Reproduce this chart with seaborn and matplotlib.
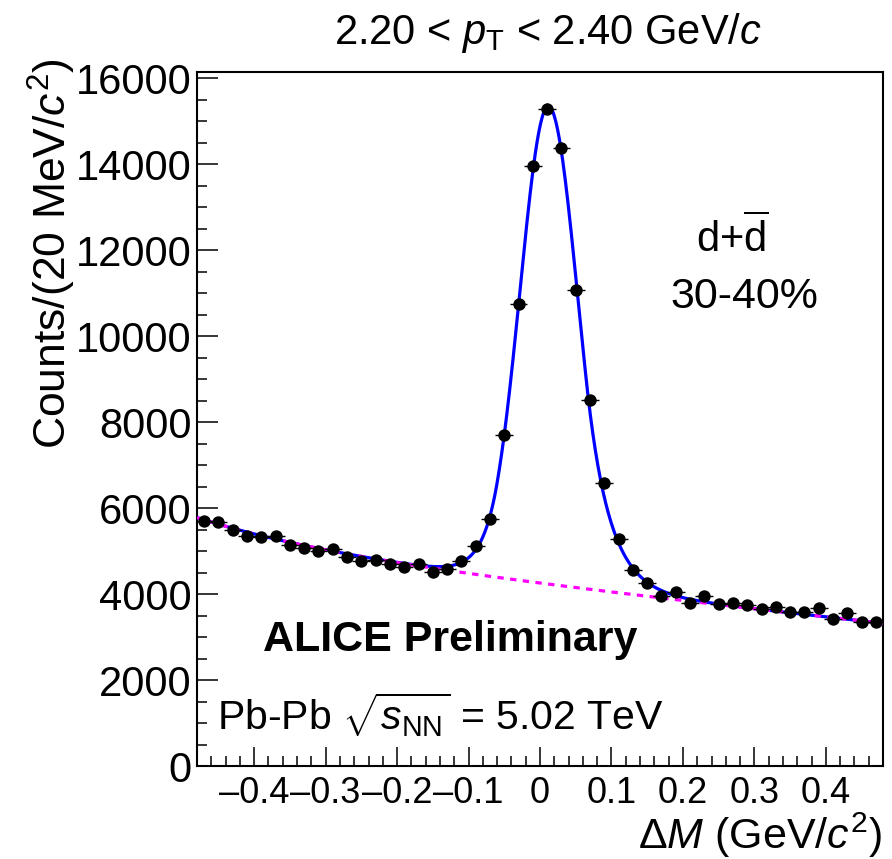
import numpy as np
import pandas as pd
import matplotlib
matplotlib.use("Agg")
import matplotlib.pyplot as plt
import seaborn as sns
from matplotlib.ticker import MultipleLocator, FixedLocator, FixedFormatter

# ---------------- data ----------------
delta_m = [-0.47, -0.45, -0.43, -0.41, -0.39, -0.37, -0.35, -0.33, -0.31, -0.29,
           -0.27, -0.25, -0.23, -0.21, -0.19, -0.17, -0.15, -0.13, -0.11, -0.09,
           -0.07, -0.05, -0.03, -0.01, 0.01, 0.03, 0.05, 0.07, 0.09, 0.11,
           0.13, 0.15, 0.17, 0.19, 0.21, 0.23, 0.25, 0.27, 0.29, 0.31,
           0.33, 0.35, 0.37, 0.39, 0.41, 0.43, 0.45, 0.47]
counts = [5690, 5670, 5500, 5350, 5330, 5355, 5140, 5075, 5005, 5040,
          4855, 4760, 4805, 4710, 4635, 4700, 4520, 4580, 4775, 5115,
          5737, 7714, 10760, 13953, 15300, 14380, 11086, 8512, 6590, 5280,
          4555, 4250, 3955, 4040, 3785, 3960, 3760, 3785, 3745, 3650,
          3705, 3590, 3590, 3680, 3410, 3550, 3355, 3355]
bin_half_width = 0.0125

# fit parameters (signal: Gaussian core with exponential tails; background: linear + exponential)
sig_amp, sig_mu, sig_sigma_left, sig_sigma_right = 11120.0, 0.012, 0.040, 0.041
tail_left, tail_right = 1.8, 1.3
bkg_a, bkg_b, bkg_d, bkg_k = 4194.0, -1829.0, 64.3, 5.0

x_ticks = [-0.4, -0.3, -0.2, -0.1, 0.0, 0.1, 0.2, 0.3, 0.4]
x_ticklabels = ["\u20130.4", "\u20130.3", "\u20130.2", "\u20130.1", "0", "0.1", "0.2", "0.3", "0.4"]
y_ticks = [0, 2000, 4000, 6000, 8000, 10000, 12000, 14000, 16000]

# ---------------- style ----------------
sns.set_theme(style="ticks")
plt.rcParams["font.family"] = ["Liberation Sans", "DejaVu Sans"]
plt.rcParams["mathtext.fontset"] = "custom"
plt.rcParams["mathtext.rm"] = "Liberation Sans"
plt.rcParams["mathtext.it"] = "Liberation Sans:italic"
plt.rcParams["mathtext.bf"] = "Liberation Sans:bold"

W, H = 892, 859
fig = plt.figure(figsize=(W / 100, H / 100), dpi=100)
L, R, B, T = 197, 883, 766, 72
ax = fig.add_axes([L / W, 1 - B / H, (R - L) / W, (B - T) / H])


def background(x):
    return bkg_a + bkg_b * x + bkg_d * np.exp(-bkg_k * x)


def signal(x):
    x = np.asarray(x, dtype=float)
    left = x < sig_mu
    t = np.where(left, (x - sig_mu) / sig_sigma_left, (x - sig_mu) / sig_sigma_right)
    g = np.exp(-0.5 * t ** 2)
    lt = np.exp(0.5 * tail_left ** 2 + tail_left * t)
    rt = np.exp(0.5 * tail_right ** 2 - tail_right * t)
    out = np.where(t < -tail_left, lt, np.where(t > tail_right, rt, g))
    return sig_amp * out


xs = np.linspace(-0.48, 0.48, 800)
fit_df = pd.DataFrame({"x": xs, "total": signal(xs) + background(xs), "bkg": background(xs)})
data_df = pd.DataFrame({"x": delta_m, "y": counts})

sns.lineplot(data=fit_df, x="x", y="total", ax=ax, color="#0000ff", linewidth=2.3, zorder=3)
sns.lineplot(data=fit_df, x="x", y="bkg", ax=ax, color="#ff00ff", linewidth=2.3,
             linestyle=(0, (2.0, 2.0)), zorder=4)
ax.errorbar(data_df["x"], data_df["y"], xerr=bin_half_width, yerr=np.sqrt(data_df["y"]),
            fmt="none", ecolor="black", elinewidth=1.0, zorder=5)
sns.scatterplot(data=data_df, x="x", y="y", ax=ax, color="black", s=80, edgecolor="black",
                linewidth=0, zorder=6)

ax.set_xlim(-0.48, 0.48)
ax.set_ylim(0, 16150)
ax.set_xlabel("")
ax.set_ylabel("")

ax.xaxis.set_major_locator(FixedLocator(x_ticks))
ax.xaxis.set_major_formatter(FixedFormatter(x_ticklabels))
ax.xaxis.set_minor_locator(MultipleLocator(0.02))
ax.yaxis.set_major_locator(FixedLocator(y_ticks))
ax.yaxis.set_minor_locator(MultipleLocator(500))
ax.set_yticklabels([str(v) for v in y_ticks])

ax.tick_params(axis="x", which="major", direction="in", length=14, width=1.1, labelsize=26,
               pad=7, top=False, color="black", labelcolor="black")
ax.tick_params(axis="x", which="minor", direction="in", length=7, width=1.1, top=False, color="black")
ax.tick_params(axis="y", which="major", direction="in", length=15, width=1.1, labelsize=30,
               pad=4, right=False, color="black", labelcolor="black")
ax.tick_params(axis="y", which="minor", direction="in", length=7.5, width=1.1, right=False, color="black")
for s in ax.spines.values():
    s.set_visible(True)
    s.set_linewidth(1.5)
    s.set_color("black")

# ---------------- texts ----------------
def fx(px):
    return px / W


def fy(py):
    return 1 - py / H


fig.text(fx(548), fy(44), r"2.20 < $p_{\mathrm{T}}$ < 2.40 GeV/$c$", ha="center", va="baseline",
         fontsize=30, color="black")
fig.text(fx(52), fy(58), r"Counts/(20 MeV/$c^{2}$)", rotation=90, ha="center", va="top",
         fontsize=32, color="black")
fig.text(fx(882), fy(835), r"$\Delta$$M$ (GeV/$c^{2}$)", ha="right", va="center",
         fontsize=31, color="black")
fig.text(fx(732), fy(238), r"d+$\overline{\mathrm{d}}$", ha="center", va="center",
         fontsize=30, color="black")
fig.text(fx(744), fy(297), "30-40%", ha="center", va="center", fontsize=31, color="black")
fig.text(fx(450), fy(640), "ALICE Preliminary", ha="center", va="center", fontsize=31,
         fontweight="bold", color="black")
fig.text(fx(217), fy(715), r"Pb-Pb $\sqrt{s_{\mathrm{NN}}}$ = 5.02 TeV", ha="left", va="center",
         fontsize=29.5, color="black")

fig.savefig("out.png", dpi=100)
